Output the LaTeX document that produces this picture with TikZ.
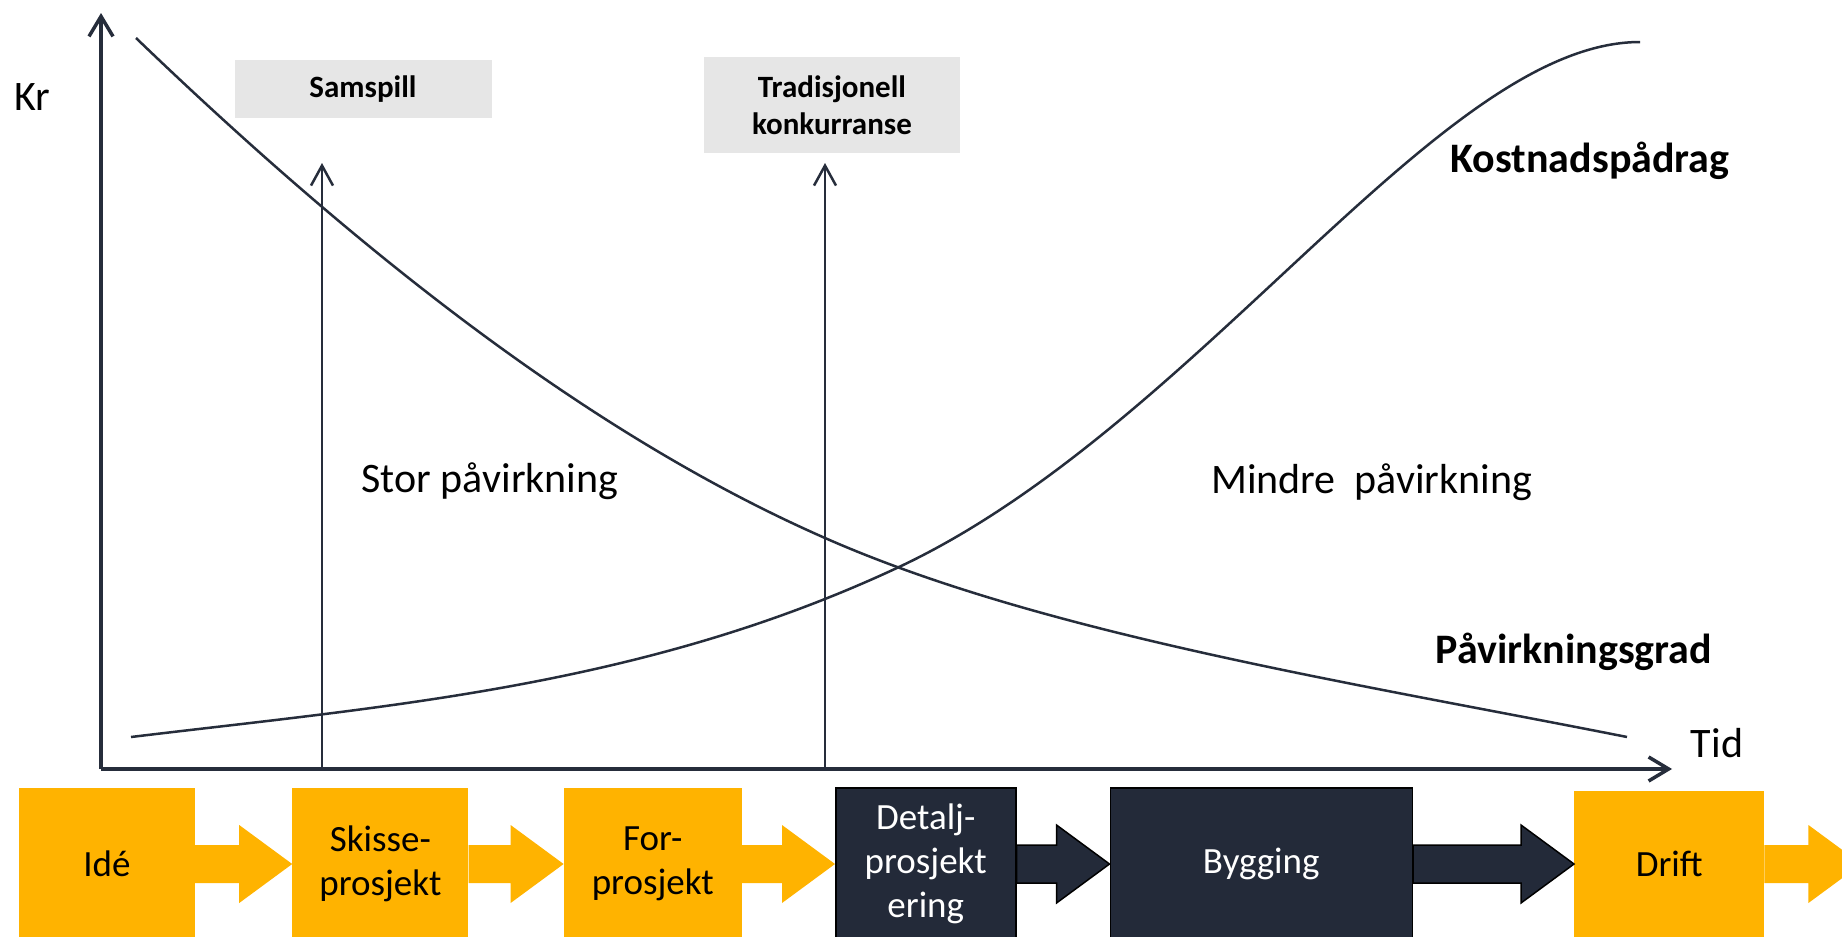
\documentclass[tikz,border=0pt]{standalone}
\usepackage{fontspec}
\setmainfont{Carlito}
\usepackage{tikz}
\usetikzlibrary{positioning,calc,arrows.meta}

\definecolor{stageorange}{HTML}{FFB300}
\definecolor{stagedark}{HTML}{232A39}
\definecolor{linedark}{HTML}{262D3B}
\definecolor{labelgray}{HTML}{E6E6E6}

\tikzset{
  stage/.style={fill=stageorange, minimum width=176pt, minimum height=152pt, inner sep=0pt, align=center, font=\fontsize{37}{44}\selectfont},
  darkstage/.style={stage, fill=stagedark, draw=black, line width=1.5pt, text=white},
  curve/.style={draw=linedark, line width=2.5pt},
  axis/.style={draw=linedark, line width=3.5pt, -{Straight Barb[length=20pt,width=24pt]}},
  marker/.style={draw=linedark, line width=2.5pt, -{Straight Barb[length=20pt,width=22pt]}},
  graybox/.style={fill=labelgray, inner sep=0pt, align=center, font=\fontsize{31}{37}\selectfont\bfseries},
  biglabel/.style={font=\fontsize{42}{50}\selectfont},
}

\newcommand{\flowarrow}[3][draw=none,fill=stageorange]{%
  \draw[#1] ($(#2.east)+(0,19)$) -- ($(#3.west)+(-53,19)$) -- ($(#3.west)+(-53,39)$) -- (#3.west)
    -- ($(#3.west)+(-53,-39)$) -- ($(#3.west)+(-53,-19)$) -- ($(#2.east)+(0,-19)$) -- cycle;}

\begin{document}
\begin{tikzpicture}[x=1pt, y=-1pt]
    \useasboundingbox (0,0) rectangle (1842,937);
    \fill [white] (0,0) rectangle (1842,937);
    \clip (0,0) rectangle (1842,937);

    % Axes
    \coordinate (origin) at (101,769);
    \coordinate (ytop) at (101,13);
    \coordinate (xend) at (1672,769);
    \draw [axis] (origin) -- (ytop);
    \draw [axis] (origin) -- (xend);
    \node [biglabel] (kr) at (32,97) {Kr};
    \node [biglabel] (tid) at (1717,743) {Tid};

    % Contract forms
    \node [graybox, minimum width=257pt, minimum height=58pt] (samspill) at (363,89) {Samspill};
    \node [graybox, minimum width=256pt, minimum height=96pt] (tradisjonell) at (832,105) {Tradisjonell\\konkurranse};
    \coordinate (samspill foot) at (322,769);
    \coordinate (samspill tip) at (322,163);
    \coordinate (tradisjonell foot) at (825,769);
    \coordinate (tradisjonell tip) at (825,163);
    \draw [marker] (samspill foot) -- (samspill tip);
    \draw [marker] (tradisjonell foot) -- (tradisjonell tip);

    % Curves
    \draw [curve] (136,38) .. controls (366,259) and (595,437) .. (825,538)
                           .. controls (1045,635) and (1360,684) .. (1627,737);
    \draw [curve] (131,737) .. controls (387,706) and (643,687) .. (899,567)
                            .. controls (1199,426) and (1440,42) .. (1640,42);
    \node [biglabel, font=\fontsize{42}{50}\selectfont\bfseries] (kostnad) at (1590,161) {Kostnadspådrag};
    \node [biglabel, font=\fontsize{42}{50}\selectfont\bfseries] (pavirkning) at (1574,652) {Påvirkningsgrad};
    \node [biglabel] (stor) at (490,481) {Stor påvirkning};
    \node [biglabel, anchor=west, inner sep=0pt] (mindre) at (1211,482) {Mindre\ \ påvirkning};

    % Phases
    \node [stage] (ide) at (107,864) {Idé};
    \node [stage, right=97pt of ide] (skisse) {Skisse-\\prosjekt};
    \node [stage, minimum width=178pt, right=95pt of skisse] (forprosjekt) {For-\\prosjekt};
    \node [darkstage, minimum width=180pt, right=93pt of forprosjekt] (detalj) {Detalj-\\prosjekt\\ering};
    \node [darkstage, minimum width=302pt, right=93pt of detalj] (bygging) {Bygging};
    \node [stage, minimum width=190pt, minimum height=146pt, right=161pt of bygging] (drift) {Drift};
    \coordinate [right=97pt of drift] (videre);

    \flowarrow{ide}{skisse}
    \flowarrow{skisse}{forprosjekt}
    \flowarrow{forprosjekt}{detalj}
    \flowarrow[draw=black, line width=1.5pt, fill=stagedark]{detalj}{bygging}
    \flowarrow[draw=black, line width=1.5pt, fill=stagedark]{bygging}{drift}
    \flowarrow{drift}{videre}
\end{tikzpicture}
\end{document}
